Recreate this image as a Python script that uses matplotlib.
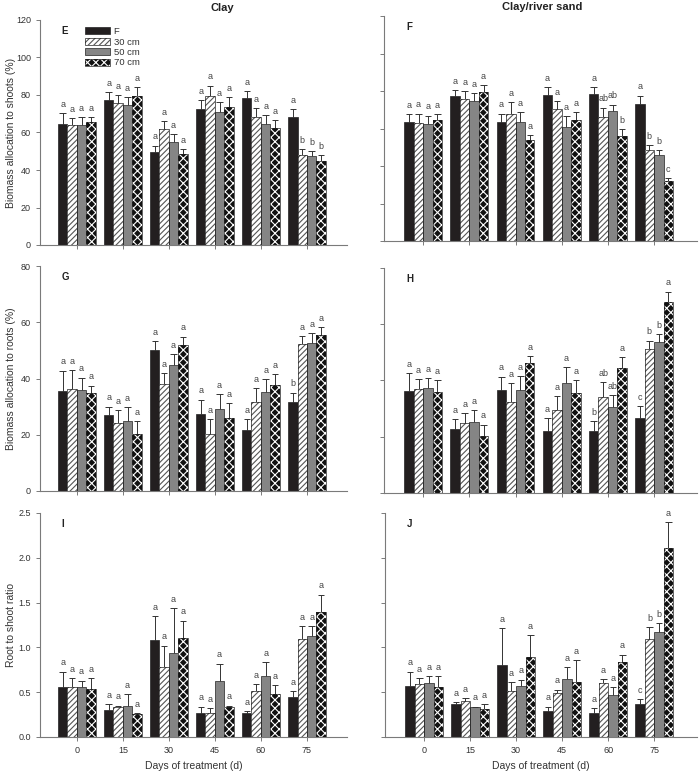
import numpy as np
import matplotlib.pyplot as plt
from matplotlib.patches import Patch

days = ['0', '15', '30', '45', '60', '75']
depths = ['F', '30 cm', '50 cm', '70 cm']

# mean and upper error for each panel, rows = depth (F, 30, 50, 70), cols = day
shoot_clay = [[64.4, 77.3, 49.6, 72.4, 78.4, 68.4],
              [63.8, 75.6, 61.7, 79.5, 68.1, 47.8],
              [64.0, 74.7, 55.1, 70.8, 64.5, 47.5],
              [65.4, 79.6, 48.4, 73.8, 62.6, 44.6]]
shoot_clay_err = [[5.8, 4.1, 3.4, 4.8, 3.9, 4.0],
                  [3.8, 4.2, 4.3, 5.5, 4.8, 3.2],
                  [4.4, 4.4, 4.1, 5.6, 4.7, 2.8],
                  [3.0, 4.5, 2.6, 5.3, 4.1, 3.2]]
shoot_clay_lab = [['a'] * 6, ['a'] * 5 + ['b'], ['a'] * 5 + ['b'], ['a'] * 5 + ['b']]

shoot_sand = [[63.6, 77.1, 63.6, 77.8, 78.2, 73.0],
              [62.8, 75.5, 67.7, 70.3, 65.9, 48.4],
              [62.5, 74.6, 63.4, 60.9, 69.3, 46.1],
              [64.3, 79.4, 54.1, 64.4, 55.9, 32.0]]
shoot_sand_err = [[3.9, 3.4, 4.4, 4.4, 3.7, 4.6],
                  [5.2, 4.3, 6.3, 4.3, 5.3, 2.9],
                  [4.4, 4.1, 5.3, 5.5, 3.5, 2.3],
                  [3.2, 3.6, 2.3, 4.5, 3.6, 1.6]]
shoot_sand_lab = [['a'] * 6,
                  ['a'] * 4 + ['ab', 'b'],
                  ['a'] * 4 + ['ab', 'b'],
                  ['a'] * 4 + ['b', 'c']]

root_clay = [[35.6, 26.9, 50.0, 27.5, 21.7, 31.5],
             [36.1, 24.3, 37.9, 20.3, 31.8, 52.1],
             [35.8, 25.0, 44.7, 29.2, 35.2, 52.7],
             [34.7, 20.3, 51.8, 25.8, 37.7, 55.5]]
root_clay_err = [[7.2, 3.1, 3.3, 5.0, 3.9, 3.5],
                 [6.9, 4.5, 3.9, 5.2, 4.7, 3.0],
                 [4.5, 4.7, 3.9, 5.3, 4.5, 3.4],
                 [2.8, 4.7, 3.1, 5.4, 4.0, 2.9]]
root_clay_lab = [['a'] * 5 + ['b'], ['a'] * 6, ['a'] * 6, ['a'] * 6]

root_sand = [[36.4, 22.9, 36.5, 22.2, 21.9, 26.7],
             [37.0, 24.8, 32.2, 29.6, 34.3, 51.3],
             [37.5, 25.4, 36.5, 39.0, 30.7, 53.8],
             [35.8, 20.4, 46.1, 35.6, 44.6, 68.0]]
root_sand_err = [[6.3, 3.4, 4.9, 4.5, 3.7, 4.3],
                 [3.5, 3.6, 6.8, 4.8, 5.2, 2.9],
                 [3.4, 4.0, 5.2, 5.8, 4.1, 2.7],
                 [4.2, 3.9, 2.6, 4.4, 3.8, 3.6]]
root_sand_lab = [['a'] * 4 + ['b', 'c'],
                 ['a'] * 4 + ['ab', 'b'],
                 ['a'] * 4 + ['ab', 'b'],
                 ['a'] * 6]

ratio_clay = [[0.56, 0.30, 1.08, 0.27, 0.27, 0.45],
              [0.56, 0.33, 0.78, 0.27, 0.51, 1.09],
              [0.56, 0.35, 0.94, 0.62, 0.68, 1.13],
              [0.54, 0.26, 1.10, 0.33, 0.48, 1.39]]
ratio_clay_err = [[0.17, 0.07, 0.27, 0.07, 0.02, 0.06],
                  [0.10, 0.02, 0.24, 0.05, 0.08, 0.15],
                  [0.07, 0.13, 0.50, 0.20, 0.16, 0.11],
                  [0.12, 0.01, 0.20, 0.02, 0.10, 0.20]]
ratio_clay_lab = [['a'] * 6] * 4

ratio_sand = [[0.57, 0.37, 0.80, 0.29, 0.27, 0.37],
              [0.59, 0.40, 0.51, 0.49, 0.60, 1.09],
              [0.60, 0.33, 0.57, 0.65, 0.47, 1.17],
              [0.56, 0.31, 0.89, 0.61, 0.84, 2.11]]
ratio_sand_err = [[0.16, 0.02, 0.42, 0.05, 0.05, 0.05],
                  [0.07, 0.03, 0.10, 0.04, 0.05, 0.14],
                  [0.08, 0.01, 0.07, 0.13, 0.09, 0.10],
                  [0.12, 0.06, 0.25, 0.25, 0.08, 0.29]]
ratio_sand_lab = [['a'] * 5 + ['c'],
                  ['a'] * 5 + ['b'],
                  ['a'] * 5 + ['b'],
                  ['a'] * 6]

plt.rcParams['font.family'] = ['Liberation Sans', 'DejaVu Sans']
plt.rcParams['hatch.linewidth'] = 0.8

GREY = '#7a7a7a'
TXT = '#333333'
styles = [dict(color='#231f20', hatch=None, hc=None),
          dict(color='white', hatch='//////', hc='#555555'),
          dict(color='#858585', hatch=None, hc=None),
          dict(color='#111111', hatch='xxxx', hc='white')]

fig = plt.figure(figsize=(7.0, 7.74), dpi=100)
W, H = 700.0, 774.0


def make_ax(left, top, right, bottom):
    return fig.add_axes([left / W, 1 - bottom / H, (right - left) / W, (bottom - top) / H])


def panel(ax, vals, errs, labs, ymax, ystep, letter, show_y, show_x, fmt):
    x = np.arange(len(days))
    w = 0.205
    for k in range(4):
        v = np.array(vals[k])
        e = np.array(errs[k])
        xs = x + (k - 1.5) * w
        st = styles[k]
        # error bars: upper half only
        ax.vlines(xs, v, v + e, color='#333333', lw=0.7, zorder=1)
        ax.hlines(v + e, xs - 0.07, xs + 0.07, color='#333333', lw=0.7, zorder=1)
        if st['hatch']:
            ax.bar(xs, v, w, color=st['color'], hatch=st['hatch'], edgecolor=st['hc'],
                   linewidth=0, zorder=2)
            ax.bar(xs, v, w, fill=False, edgecolor='#222222', linewidth=0.5, zorder=3)
        else:
            ax.bar(xs, v, w, color=st['color'], edgecolor='#222222', linewidth=0.5, zorder=2)
        for xi, top, lab in zip(xs, v + e, labs[k]):
            ax.annotate(lab, (xi, top), xytext=(0, 3), textcoords='offset points',
                        ha='center', va='bottom', fontsize=6.5, color='#444444')
    ax.set_ylim(0, ymax)
    ax.set_yticks(np.arange(0, ymax + ystep / 2, ystep))
    for side in ['top', 'right']:
        ax.spines[side].set_visible(False)
    for side in ['left', 'bottom']:
        ax.spines[side].set_color(GREY)
        ax.spines[side].set_linewidth(0.8)
    ax.tick_params(colors=GREY, labelcolor=TXT, labelsize=6.5, length=3, width=0.7)
    ax.set_xticks(x)
    if show_x:
        ax.set_xticklabels(days)
        ax.set_xlabel('Days of treatment (d)', fontsize=7.5, color=TXT)
        ax.xaxis.set_label_coords(0.5, -0.105)
    else:
        ax.set_xticklabels([])
    if show_y:
        ax.set_yticklabels([fmt.format(t) for t in ax.get_yticks()])
    else:
        ax.set_yticklabels([])
    ax.text(0.07, 0.975, letter, transform=ax.transAxes, fontsize=7, fontweight='bold',
            va='top', ha='left', color='#222222')


axE = make_ax(40, 20, 347, 245)
axF = make_ax(384, 16, 697, 241)
axG = make_ax(40, 266, 347, 491)
axH = make_ax(384, 268, 697, 493)
axI = make_ax(40, 513, 347, 737)
axJ = make_ax(385, 513, 697, 737)

for ax in [axE, axG, axI]:
    ax.set_xlim(-0.8, 5.87)
for ax in [axF, axH, axJ]:
    ax.set_xlim(-0.85, 5.93)

panel(axE, shoot_clay, shoot_clay_err, shoot_clay_lab, 120, 20, 'E', True, False, '{:.0f}')
panel(axF, shoot_sand, shoot_sand_err, shoot_sand_lab, 120, 20, 'F', False, False, '{:.0f}')
panel(axG, root_clay, root_clay_err, root_clay_lab, 80, 20, 'G', True, False, '{:.0f}')
panel(axH, root_sand, root_sand_err, root_sand_lab, 80, 20, 'H', False, False, '{:.0f}')
panel(axI, ratio_clay, ratio_clay_err, ratio_clay_lab, 2.5, 0.5, 'I', True, True, '{:.1f}')
panel(axJ, ratio_sand, ratio_sand_err, ratio_sand_lab, 2.5, 0.5, 'J', False, True, '{:.1f}')

for ax, lab in [(axE, 'Biomass allocation to shoots (%)'),
                (axG, 'Biomass allocation to roots (%)'),
                (axI, 'Root to shoot ratio')]:
    ax.set_ylabel(lab, fontsize=7.5, color=TXT)
    ax.yaxis.set_label_coords(-0.078, 0.5)

fig.text(222 / W, 1 - 8 / H, 'Clay', fontsize=8, fontweight='bold', color='#222222',
         ha='center', va='center')
fig.text(542 / W, 1 - 7 / H, 'Clay/river sand', fontsize=8, fontweight='bold',
         color='#222222', ha='center', va='center')

# legend: hatched fill overlaid with a dark outline for each depth
handles = []
for st in styles:
    if st['hatch']:
        fill = Patch(facecolor=st['color'], hatch=st['hatch'], edgecolor=st['hc'], linewidth=0)
        edge = Patch(fill=False, edgecolor='#222222', linewidth=0.5)
        handles.append((fill, edge))
    else:
        handles.append(Patch(facecolor=st['color'], edgecolor='#222222', linewidth=0.5))
leg = axE.legend(handles, depths, loc='upper left', bbox_to_anchor=(0.135, 0.985),
                 frameon=False, fontsize=6.8, handlelength=2.6, handleheight=0.75,
                 labelspacing=0.15, handletextpad=0.4, borderaxespad=0)
for t in leg.get_texts():
    t.set_color(TXT)

fig.savefig('out.png', dpi=100)
